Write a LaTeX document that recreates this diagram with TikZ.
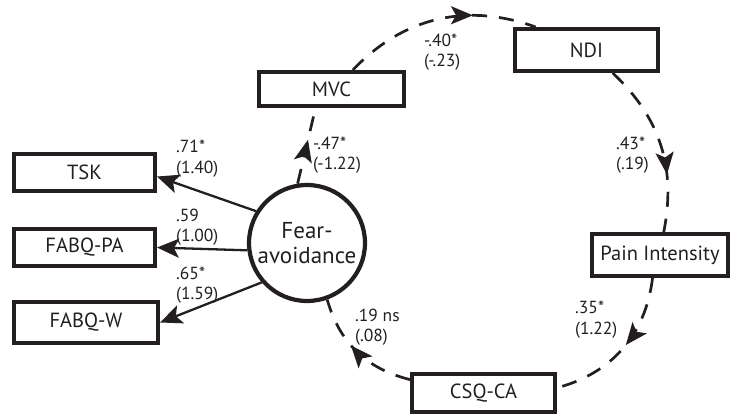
\documentclass[tikz,border=0pt]{standalone}
\usepackage{fontspec}
\setmainfont{PT Sans}
\usetikzlibrary{arrows.meta,decorations.markings}
\definecolor{ink}{HTML}{231F20}
\begin{document}
\begin{tikzpicture}[x=1pt,y=-1pt,
  box/.style={draw=ink,line width=4pt,inner sep=0pt,text=ink,font=\fontsize{20.5}{24}\selectfont},
  lbl/.style={anchor=west,inner sep=0pt,align=left,text=ink,font=\fontsize{17.5}{20.5}\selectfont},
  arr/.style={draw=ink,line width=2.3pt,-{Stealth[length=22pt,width=19pt,inset=5pt]}},
  cyc/.style={draw=ink,line width=2.7pt,dash pattern=on 15pt off 12pt,
    decoration={markings,mark=at position #1 with {\arrow{Stealth[length=22pt,width=18pt,inset=5pt]}}},
    postaction={decorate}}]
\useasboundingbox (0,0) rectangle (733,415);
% boxes
\node[box,minimum width=141pt,minimum height=37pt] (TSK) at (84.5,172.5) {TSK};
\node[box,minimum width=141pt,minimum height=37pt] (PA) at (84.5,247.5) {FABQ-PA};
\node[box,minimum width=144pt,minimum height=41pt] (W) at (86,322.5) {FABQ-W};
\node[box,minimum width=145pt,minimum height=34pt] (MVC) at (331.5,89) {MVC};
\node[box,minimum width=143pt,minimum height=42pt] (NDI) at (586.5,50) {NDI};
\node[box,minimum width=136pt,minimum height=42pt] (PI) at (660,255) {Pain Intensity};
\node[box,minimum width=143pt,minimum height=38pt] (CSQ) at (483.5,393) {CSQ-CA};
\node[draw=ink,circle,line width=4.2pt,minimum size=116pt,inner sep=0pt,align=center,text=ink,
  font=\fontsize{23}{25}\selectfont] (FA) at (307,243) {Fear-\\avoidance};
% loadings
\draw[arr] (FA.148) -- ([yshift=-4pt]TSK.east);
\draw[arr] (FA.187) -- (PA.east);
\draw[arr] (FA.221) -- (W.east);
% cycle
\draw[cyc=0.58] (FA.99) -- ([xshift=-16pt]MVC.south);
\draw[cyc=0.68] (MVC) to[bend left=33] (NDI);
\draw[cyc=0.67] (NDI) to[bend left=29] (PI);
\draw[cyc=0.47] (PI) to[bend left=34] (CSQ);
\draw[cyc=0.57] (CSQ) to[bend left=30] (FA);
% labels
\node[lbl] (l1) at (176,158.5) {.71*\\(1.40)};
\node[lbl] (l2) at (176,227) {.59\\(1.00)};
\node[lbl] (l3) at (176,285) {.65*\\(1.59)};
\node[lbl] (l4) at (313,155) {-.47*\\(-1.22)};
\node[lbl] (l5) at (424,52) {-.40*\\(-.23)};
\node[lbl] (l6) at (616,155) {.43*\\(.19)};
\node[lbl] (l7) at (575,319.5) {.35*\\(1.22)};
\node[lbl] (l8) at (355,327) {.19 ns\\(.08)};
\end{tikzpicture}
\end{document}
